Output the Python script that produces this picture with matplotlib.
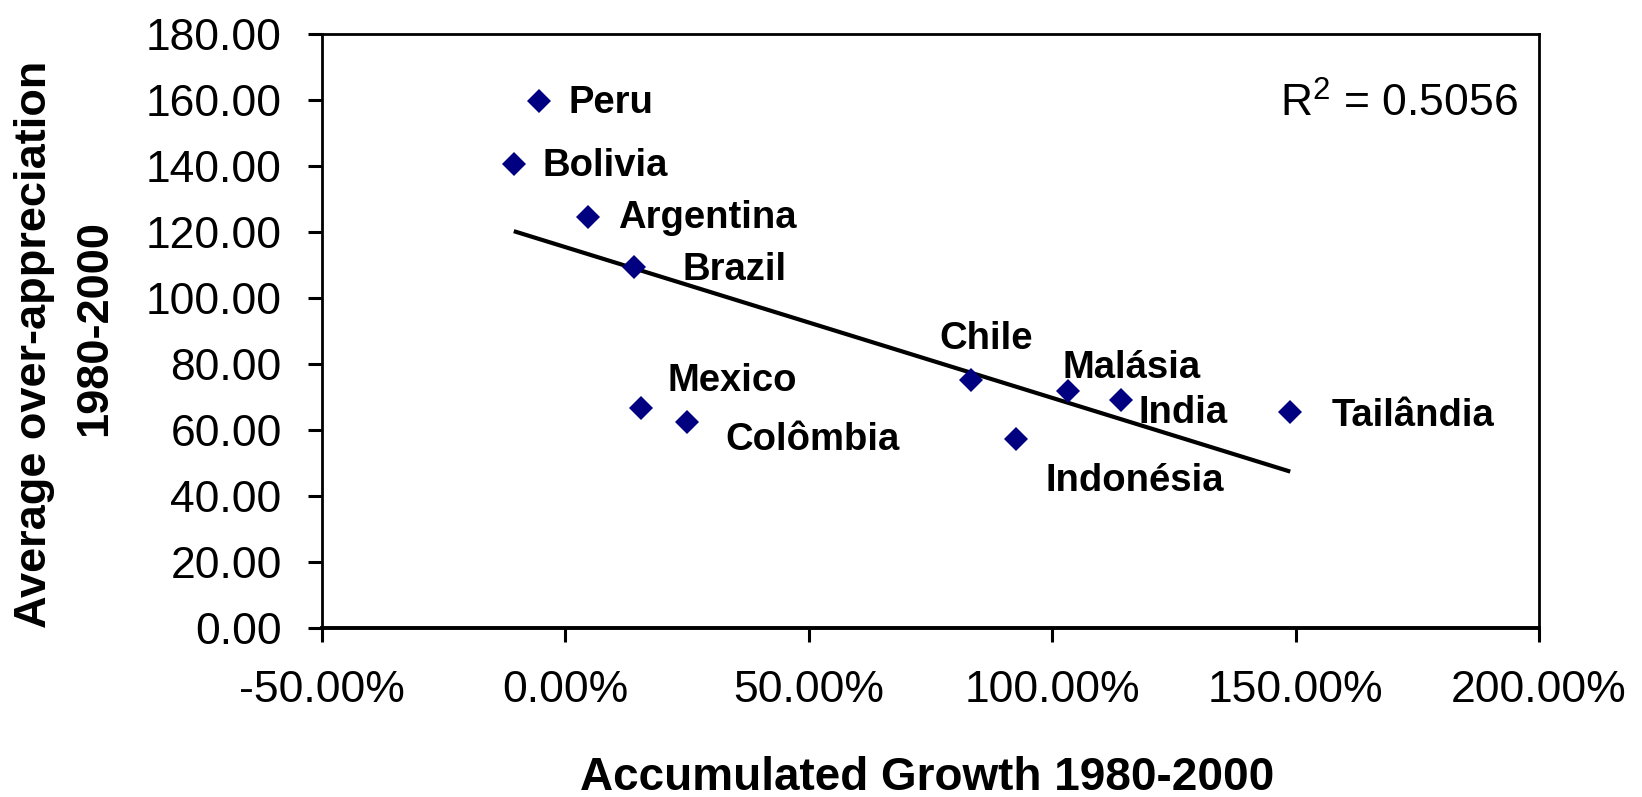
import numpy as np
import matplotlib
matplotlib.use("Agg")
import matplotlib.pyplot as plt
from matplotlib.ticker import FuncFormatter, MultipleLocator

plt.rcParams['font.family'] = ['Liberation Sans', 'DejaVu Sans']
plt.rcParams['mathtext.fontset'] = 'custom'
plt.rcParams['mathtext.rm'] = 'Liberation Sans'
plt.rcParams['mathtext.it'] = 'Liberation Sans:italic'
plt.rcParams['mathtext.bf'] = 'Liberation Sans:bold'

# ---- data ----
countries = ["Peru", "Bolivia", "Argentina", "Brazil", "Mexico", "Colômbia",
             "Chile", "Indonésia", "Malásia", "India", "Tailândia"]
growth_pct = [-5.4, -10.6, 4.6, 14.1, 15.5, 25.0, 83.4, 92.6, 103.2, 114.1, 148.9]
overappreciation = [159.6, 140.5, 124.4, 109.3, 66.6, 62.4, 75.1, 57.2, 71.8, 69.0, 65.4]
r2_text = r"R$^{\mathrm{2}}$ = 0.5056"
x_ticks = [-50, 0, 50, 100, 150, 200]
y_ticks = [0, 20, 40, 60, 80, 100, 120, 140, 160, 180]

# label offsets in pixels (dx, dy) relative to each point (baseline-left anchored)
label_offsets = {
    "Peru": (29, -12), "Bolivia": (29, -12), "Argentina": (30, -11),
    "Brazil": (48, -13), "Mexico": (27, 17), "Colômbia": (38, -28),
    "Chile": (-32, 31), "Indonésia": (29, -52), "Malásia": (-5, 13),
    "India": (18, -23), "Tailândia": (41, -14),
}

W, H = 1642, 797
fig = plt.figure(figsize=(W / 100, H / 100), dpi=100)
ax = fig.add_axes([322 / W, 1 - 628 / H, (1539 - 322) / W, (628 - 33.5) / H])

x = np.array(growth_pct)
y = np.array(overappreciation)

# trend line (least squares) across the data range
coef = np.polyfit(x, y, 1)
xl = np.array([x.min(), x.max()])
ax.plot(xl, np.polyval(coef, xl), color='black', lw=3.0, zorder=2, solid_capstyle='butt')

ax.plot(x, y, linestyle='none', marker='D', ms=12, color='#000080',
        markeredgewidth=0, zorder=3)

for name, xi, yi in zip(countries, x, y):
    dx, dy = label_offsets[name]
    ax.annotate(name, (xi, yi), xytext=(dx, dy), textcoords='offset pixels',
                ha='left', va='baseline', fontsize=27.5, fontweight='bold',
                color='black', zorder=4)

ax.set_xlim(-50, 200)
ax.set_ylim(0, 180)
ax.set_xticks(x_ticks)
ax.set_yticks(y_ticks)
ax.xaxis.set_major_formatter(FuncFormatter(lambda v, p: f"{v:.2f}%"))
ax.yaxis.set_major_formatter(FuncFormatter(lambda v, p: f"{v:.2f}"))
ax.tick_params(axis='both', direction='out', length=10, width=2.2, color='black',
               labelsize=32, labelcolor='black')
ax.tick_params(axis='y', pad=19)
ax.tick_params(axis='x', pad=20)

for side in ['left', 'top', 'right']:
    ax.spines[side].set_linewidth(2.0)
    ax.spines[side].set_color('black')
ax.spines['bottom'].set_linewidth(2.8)
ax.spines['bottom'].set_color('black')

ax.text(1518 / W, 0, r2_text, transform=fig.transFigure, fontsize=32,
        ha='right', va='baseline')
ax.texts[-1].set_position((1518 / W, 1 - 117 / H))

fig.text(927.5 / W, 1 - 790 / H, "Accumulated Growth 1980-2000", ha='center',
         va='baseline', fontsize=33, fontweight='bold')
fig.text(35 / W, 1 - 344 / H, "Average over-appreciation", rotation=90,
         ha='center', va='center', fontsize=32.5, fontweight='bold')
fig.text(95 / W, 1 - 328 / H, "1980-2000", rotation=90,
         ha='center', va='center', fontsize=32.5, fontweight='bold')

fig.savefig("out.png", dpi=100, facecolor='white')
